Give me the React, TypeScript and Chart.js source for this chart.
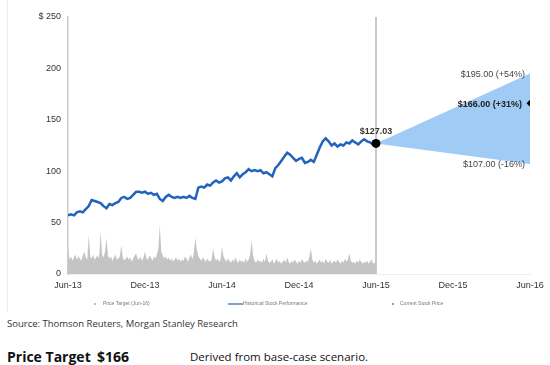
import React, { useEffect, useRef } from "react";
import { Chart, registerables } from "chart.js";

Chart.register(...registerables);

// Month offsets from Jun-13; tick labels every 6 months
const tickLabels = ["Jun-13", "Dec-13", "Jun-14", "Dec-14", "Jun-15", "Dec-15", "Jun-16"];
const priceStep = 24 / 104; // weekly observations from Jun-13 to Jun-15
const volumeStep = 24 / 208; // half-weekly observations

const priceValues = [
  57, 58, 57, 60, 61, 60, 63, 66, 72, 71, 70, 69, 66, 64, 68, 67, 69, 70, 74, 75,
  73, 74, 77, 80, 80, 79, 80, 78, 79, 77, 78, 73, 71, 75, 77, 75, 74, 75, 74, 75,
  74, 76, 74, 73, 84, 85, 84, 87, 86, 89, 91, 89, 90, 93, 94, 91, 95, 98, 94, 97,
  99, 102, 100, 101, 100, 101, 98, 99, 97, 95, 103, 106, 110, 114, 118, 116, 113, 110, 112, 113,
  108, 109, 111, 109, 116, 123, 129, 132, 129, 125, 127, 124, 126, 125, 128, 127, 130, 128, 126, 129,
  131, 129, 128, 126, 127.03,
];

const volumeValues = [
  26, 14, 17, 13, 16, 19, 14, 17, 15, 13, 18, 22, 16, 14, 38, 17, 15, 19, 14, 16,
  18, 15, 41, 19, 16, 22, 35, 18, 15, 17, 13, 16, 19, 14, 15, 17, 28, 16, 13, 15,
  17, 14, 16, 12, 15, 18, 20, 15, 14, 17, 13, 16, 22, 15, 14, 18, 16, 13, 17, 15,
  19, 24, 48, 22, 18, 15, 17, 14, 16, 13, 15, 12, 14, 16, 13, 15, 12, 14, 13, 17,
  15, 12, 16, 19, 14, 21, 35, 24, 17, 15, 13, 16, 14, 12, 15, 13, 12, 14, 25, 16,
  13, 15, 12, 14, 26, 17, 14, 12, 15, 13, 11, 14, 12, 16, 13, 11, 14, 12, 13, 11,
  15, 12, 14, 19, 33, 18, 13, 11, 14, 12, 13, 11, 15, 12, 20, 13, 11, 12, 14, 10,
  12, 15, 11, 13, 10, 12, 14, 11, 16, 12, 10, 13, 11, 14, 12, 10, 13, 11, 15, 12,
  11, 13, 12, 17, 25, 14, 11, 13, 10, 12, 14, 11, 13, 10, 15, 12, 11, 14, 10, 12,
  13, 11, 14, 12, 10, 13, 11, 15, 12, 14, 20, 13, 11, 12, 10, 13, 11, 14, 12, 10,
  12, 11, 13, 10, 12, 14, 10, 11, 9,
];

const currentMonth = 24;
const targetMonth = 36;
const currentPrice = 127.03;
const bullPrice = 195;
const basePrice = 166;
const bearPrice = 107;
const bullLabel = "$195.00 (+54%)";
const baseLabel = "$166.00 (+31%)";
const bearLabel = "$107.00 (-16%)";
const currentLabel = "$127.03";

const legendItems = ["Price Target (Jun-16)", "Historical Stock Performance", "Current Stock Price"];

const FONT = "Arial, 'Liberation Sans', sans-serif";

export default function App() {
  const ref = useRef<HTMLCanvasElement | null>(null);

  useEffect(() => {
    const canvas = ref.current;
    if (!canvas) return;

    const priceData = priceValues.map((v, i) => ({ x: i * priceStep, y: v }));
    const volumeData = volumeValues.map((v, i) => ({ x: i * volumeStep, y: v }));

    const labelPlugin = {
      id: "labels",
      afterDatasetsDraw(chart: any) {
        const { ctx, scales } = chart;
        const xs = scales.x;
        const ys = scales.y;
        ctx.save();
        ctx.fillStyle = "#333";
        ctx.textBaseline = "middle";
        ctx.font = `bold 9px ${FONT}`;
        ctx.textAlign = "center";
        ctx.fillText(currentLabel, xs.getPixelForValue(currentMonth), ys.getPixelForValue(currentPrice) - 12);
        const xr = xs.getPixelForValue(targetMonth);
        ctx.textAlign = "right";
        ctx.font = `9px ${FONT}`;
        ctx.fillStyle = "#444";
        ctx.fillText(bullLabel, xr - 5, ys.getPixelForValue(bullPrice) + 1);
        ctx.fillText(bearLabel, xr - 5, ys.getPixelForValue(bearPrice) + 1);
        ctx.font = `bold 9px ${FONT}`;
        ctx.fillStyle = "#222";
        ctx.fillText(baseLabel, xr - 8, ys.getPixelForValue(basePrice) + 1);

        // legend
        const ly = 304;
        ctx.font = `5px ${FONT}`;
        ctx.fillStyle = "#777";
        ctx.textAlign = "left";
        ctx.beginPath();
        ctx.arc(95, ly, 0.8, 0, Math.PI * 2);
        ctx.fill();
        ctx.fillText(legendItems[0], 103, ly);
        ctx.strokeStyle = "#5a82c0";
        ctx.lineWidth = 1.5;
        ctx.beginPath();
        ctx.moveTo(228, ly);
        ctx.lineTo(243, ly);
        ctx.stroke();
        ctx.fillText(legendItems[1], 243, ly);
        ctx.beginPath();
        ctx.arc(393, ly, 0.9, 0, Math.PI * 2);
        ctx.fill();
        ctx.fillText(legendItems[2], 400, ly);
        ctx.restore();
      },
    };

    const chart = new Chart(canvas, {
      type: "line",
      data: {
        datasets: [
          {
            label: "Current",
            data: [{ x: currentMonth, y: currentPrice }],
            pointRadius: 4.5,
            pointBackgroundColor: "#000",
            pointBorderWidth: 0,
            showLine: false,
            order: 0,
          } as any,
          {
            label: "Target",
            data: [{ x: targetMonth, y: basePrice }],
            pointStyle: "rectRot",
            pointRadius: 3.5,
            pointBackgroundColor: "#000",
            pointBorderWidth: 0,
            showLine: false,
            order: 0,
          },
          {
            label: "Price",
            data: priceData,
            borderColor: "#2163bd",
            borderWidth: 2.5,
            pointRadius: 0,
            tension: 0,
            fill: false,
            order: 1,
          },
          {
            label: "Upper",
            data: [
              { x: currentMonth, y: currentPrice },
              { x: targetMonth, y: bullPrice },
            ],
            borderWidth: 0,
            borderColor: "rgba(0,0,0,0)",
            backgroundColor: "#9fcbf5",
            pointRadius: 0,
            fill: "+1",
            order: 3,
          },
          {
            label: "Lower",
            data: [
              { x: currentMonth, y: currentPrice },
              { x: targetMonth, y: bearPrice },
            ],
            borderWidth: 0,
            borderColor: "rgba(0,0,0,0)",
            pointRadius: 0,
            fill: false,
            order: 3,
          },
          {
            label: "Volume",
            data: volumeData,
            borderWidth: 0,
            borderColor: "rgba(0,0,0,0)",
            backgroundColor: "#c4c4c4",
            pointRadius: 0,
            fill: "origin",
            order: 4,
          },
          {
            label: "Divider",
            data: [
              { x: currentMonth, y: 0 },
              { x: currentMonth, y: 250 },
            ],
            borderColor: "#c8c8c8",
            borderWidth: 2,
            pointRadius: 0,
            fill: false,
            order: 5,
          },
        ],
      },
      options: {
        animation: false,
        responsive: false,
        events: [],
        layout: { padding: { top: 17, right: 20, left: 0, bottom: 0 } },
        plugins: { legend: { display: false }, tooltip: { enabled: false } },
        scales: {
          x: {
            type: "linear",
            min: 0,
            max: 36,
            grid: { display: false, drawTicks: false },
            border: { display: true, color: "#eeeeee", width: 1 },
            ticks: {
              stepSize: 6,
              autoSkip: false,
              maxRotation: 0,
              padding: 6,
              color: "#333",
              font: { size: 9, family: FONT },
              callback: (v: any) => tickLabels[Math.round(Number(v) / 6)] ?? "",
            },
            afterFit: (s: any) => {
              s.height = 38;
            },
          },
          y: {
            min: 0,
            max: 250,
            grid: { display: false, drawTicks: false },
            border: { display: true, color: "#cccccc", width: 1.5 },
            ticks: {
              stepSize: 50,
              padding: 7,
              color: "#333",
              font: { size: 9, family: FONT },
              callback: (v: any) => (Number(v) === 250 ? "$ 250" : String(v)),
            },
            afterFit: (s: any) => {
              s.width = 68;
            },
          },
        },
      },
      plugins: [labelPlugin],
    });

    return () => chart.destroy();
  }, []);

  return (
    <div style={{ position: "absolute", left: 0, top: 0, width: 550, height: 365, background: "#fff", overflow: "hidden" }}>
      <div style={{ position: "absolute", left: 7, top: 0, width: 1, height: 312, background: "#eeeeee" }} />
      <canvas ref={ref} width={550} height={312} style={{ position: "absolute", left: 0, top: 0, width: 550, height: 312 }} />
      <div
        style={{
          position: "absolute",
          left: 7,
          top: 317,
          fontFamily: "'Open Sans', sans-serif",
          fontSize: 9.5,
          color: "#333",
          whiteSpace: "nowrap",
          lineHeight: "14px",
        }}
      >
        Source: Thomson Reuters, Morgan Stanley Research
      </div>
      <div
        style={{
          position: "absolute",
          left: 7,
          top: 347,
          fontFamily: "'Open Sans', sans-serif",
          fontWeight: 700,
          fontSize: 14,
          color: "#111",
          whiteSpace: "nowrap",
          lineHeight: "20px",
        }}
      >
        Price Target
      </div>
      <div
        style={{
          position: "absolute",
          left: 97,
          top: 347,
          fontFamily: "'Open Sans', sans-serif",
          fontWeight: 700,
          fontSize: 14,
          color: "#111",
          whiteSpace: "nowrap",
          lineHeight: "20px",
        }}
      >
        $166
      </div>
      <div
        style={{
          position: "absolute",
          left: 190,
          top: 348,
          fontFamily: "'Open Sans', sans-serif",
          fontSize: 11.5,
          color: "#111",
          whiteSpace: "nowrap",
          lineHeight: "18px",
        }}
      >
        Derived from base-case scenario.
      </div>
    </div>
  );
}
